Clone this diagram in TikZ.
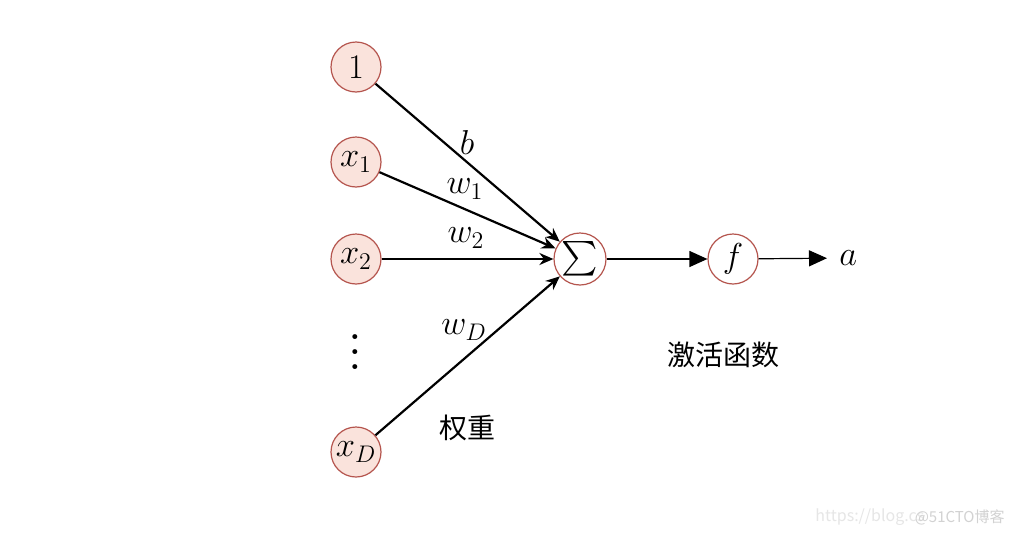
\documentclass[tikz,border=0pt]{standalone}
\usepackage{exscale}
\usepackage{fontspec}
\newfontfamily\cjk{Noto Sans CJK SC}
\usetikzlibrary{arrows.meta}
\definecolor{nodefill}{HTML}{FAE3DC}
\definecolor{nodedraw}{HTML}{B5554E}
\definecolor{wmlight}{HTML}{E6E6E6}
\definecolor{wmdark}{HTML}{D2D2D2}
\tikzset{
  neuron/.style={circle,draw=nodedraw,fill=nodefill,line width=0.6pt,minimum size=25pt,inner sep=0pt,font=\fontsize{17}{19}\selectfont},
  opnode/.style={circle,draw=nodedraw,fill=white,line width=0.6pt,minimum size=26pt,inner sep=0pt,font=\fontsize{17}{19}\selectfont},
  inarrow/.style={line width=1.1pt,-{Stealth[length=7pt,width=6pt]}},
  outarrow/.style={line width=0.6pt,-{Triangle[length=9pt,width=8pt]}},
  lbl/.style={font=\fontsize{17}{19}\selectfont,inner sep=0pt},
  cjklbl/.style={font=\cjk\fontsize{14}{16}\selectfont,inner sep=0pt}
}
\begin{document}
\begin{tikzpicture}[x=0.5pt,y=-0.5pt]
\useasboundingbox[fill=white] (0,0) rectangle (1024,536);
\node[neuron] (one) at (356,67) {$1$};
\node[neuron] (x1) at (356,162) {$x_1$};
\node[neuron] (x2) at (356,259) {$x_2$};
\node[lbl,align=center,font=\bfseries\fontsize{17}{7.5}\selectfont] (dots) at (355,352) {.\\.\\.};
\node[neuron] (xD) at (356,452) {$x_D$};
\node[opnode] (sum) at (580,259) {\fontsize{16.5}{18}\selectfont$\sum$};
\node[opnode,minimum size=25pt] (f) at (733,259) {$f$};
\node[lbl,anchor=west,inner sep=6pt] (a) at (827,258) {$a$};
\draw[inarrow] (one) -- (sum);
\draw[inarrow] (x1) -- (sum);
\draw[inarrow] (x2) -- (sum);
\draw[inarrow] (xD) -- (sum);
\draw[outarrow] (sum) -- (f);
\draw[outarrow] (f) -- (a);
\node[lbl] (lb) at (467,142) {$b$};
\node[lbl] (lw1) at (465,189) {$w_1$};
\node[lbl] (lw2) at (466,238) {$w_2$};
\node[lbl] (lwD) at (464,330) {$w_D$};
\node[cjklbl] (qz) at (467,428) {权重};
\node[cjklbl] (jh) at (723,355) {激活函数};
\node[font=\cjk\fontsize{8}{10}\selectfont,text=wmlight,anchor=west,inner sep=0pt] (wm1) at (815,517) {https://blog.cs};
\node[font=\cjk\fontsize{7.5}{9}\selectfont,text=wmdark,anchor=east,inner sep=0pt] (wm2) at (1005,517) {@51CTO博客};
\end{tikzpicture}
\end{document}
